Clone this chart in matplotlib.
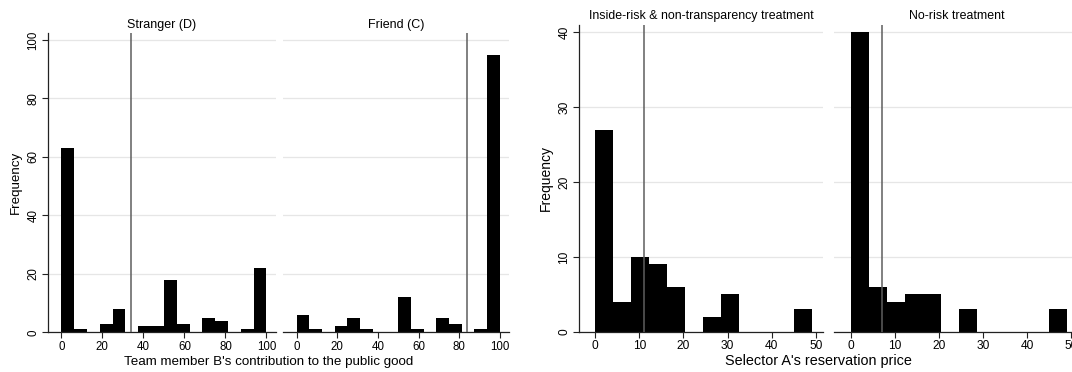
import numpy as np
import matplotlib
matplotlib.use("Agg")
import matplotlib.pyplot as plt

plt.rcParams['font.family'] = ['Liberation Sans', 'DejaVu Sans']

# Contribution histograms (16 bins of width 6.25 over 0-100)
contrib_edges = np.linspace(0, 100, 17)
stranger_counts = [63, 1, 0, 3, 8, 0, 2, 2, 18, 3, 0, 5, 4, 0, 1, 22]
friend_counts = [6, 1, 0, 2, 5, 1, 0, 0, 12, 1, 0, 5, 3, 0, 1, 95]
stranger_mean = 34.1
friend_mean = 84.0

# Reservation price histograms (12 bins over 0-49)
price_edges = np.linspace(0, 49, 13)
inside_risk_counts = [27, 4, 10, 9, 6, 0, 2, 5, 0, 0, 0, 3]
no_risk_counts = [40, 6, 4, 5, 5, 0, 3, 0, 0, 0, 0, 3]
inside_risk_mean = 11.1
no_risk_mean = 7.1

contrib_xticks = [0, 20, 40, 60, 80, 100]
contrib_yticks = [0, 20, 40, 60, 80, 100]
price_xticks = [0, 10, 20, 30, 40, 50]
price_yticks = [0, 10, 20, 30, 40]

W, H = 1072, 372
fig = plt.figure(figsize=(W / 100, H / 100), dpi=100)


def px_axes(x0, x1, ytop, ybot):
    return fig.add_axes([x0 / W, (H - ybot) / H, (x1 - x0) / W, (ybot - ytop) / H])


def panel(ax, edges, counts, mean, title, xlim, ylim, xticks, yticks, first,
          tick_fs, title_fs):
    ax.set_xlim(*xlim)
    ax.set_ylim(*ylim)
    ax.set_yticks(yticks)
    ax.set_xticks(xticks)
    for y in yticks:
        ax.axhline(y, color='#e6e6e6', lw=0.9, zorder=0)
    ax.stairs(counts, edges, fill=True, color='black', lw=0, zorder=2)
    ax.axvline(mean, color='#5e5e5e', lw=1.1, zorder=3)
    for s in ['top', 'right']:
        ax.spines[s].set_visible(False)
    ax.spines['bottom'].set_color('#222222')
    ax.spines['bottom'].set_linewidth(0.9)
    if first:
        ax.spines['left'].set_color('#222222')
        ax.spines['left'].set_linewidth(0.9)
        ax.tick_params(axis='y', length=4, width=0.8, color='#222222',
                       labelsize=tick_fs, pad=2)
        for lab in ax.get_yticklabels():
            lab.set_rotation(90)
            lab.set_va('center')
    else:
        ax.spines['left'].set_visible(False)
        ax.tick_params(axis='y', left=False, labelleft=False)
    ax.tick_params(axis='x', length=4, width=0.8, color='#222222',
                   labelsize=tick_fs, pad=2)
    ax.set_title(title, fontsize=title_fs, pad=4)


contrib_xlim = (-6.5, 104.5)
contrib_ylim = (0, 102.3)
price_xlim = (-3.7, 51.65)
price_ylim = (0, 41.0)

ax1 = px_axes(48, 275.7, 33.3, 332.3)
panel(ax1, contrib_edges, stranger_counts, stranger_mean, 'Stranger (D)',
      contrib_xlim, contrib_ylim, contrib_xticks, contrib_yticks, True, 8.3, 9)
ax2 = px_axes(283.3, 509, 33.3, 332.3)
panel(ax2, contrib_edges, friend_counts, friend_mean, 'Friend (C)',
      contrib_xlim, contrib_ylim, contrib_xticks, contrib_yticks, False, 8.3, 9)

ax3 = px_axes(578.7, 823.3, 25, 331.7)
panel(ax3, price_edges, inside_risk_counts, inside_risk_mean,
      'Inside-risk & non-transparency treatment',
      price_xlim, price_ylim, price_xticks, price_yticks, True, 8.6, 8.9)
ax4 = px_axes(834.3, 1078.7, 25, 331.7)
panel(ax4, price_edges, no_risk_counts, no_risk_mean, 'No-risk treatment',
      price_xlim, price_ylim, price_xticks, price_yticks, False, 8.6, 8.9)

ax1.set_ylabel('Frequency', fontsize=9.6, labelpad=4)
ax3.set_ylabel('Frequency', fontsize=10, labelpad=4)

fig.text(268.5 / W, 1 - 362 / H, "Team member B's contribution to the public good",
         ha='center', va='center', fontsize=9.6)
fig.text(818 / W, 1 - 361 / H, "Selector A's reservation price",
         ha='center', va='center', fontsize=10.4)

fig.savefig('out.png', dpi=100)
